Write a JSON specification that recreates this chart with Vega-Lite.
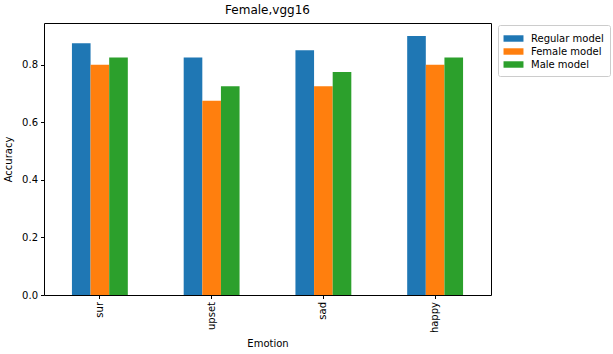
{
  "$schema": "https://vega.github.io/schema/vega-lite/v6.json",
  "width": 447,
  "height": 272,
  "autosize": {"type": "none"},
  "padding": {"left": 44, "top": 23, "right": 122, "bottom": 59},
  "title": {"text": "Female,vgg16", "fontSize": 12, "font": "DejaVu Sans", "fontWeight": "normal", "color": "#000", "offset": 6},
  "data": {"values": [
    {"emotion": "sur", "model": "Regular model", "acc": 0.875},
    {"emotion": "sur", "model": "Female model", "acc": 0.8},
    {"emotion": "sur", "model": "Male model", "acc": 0.825},
    {"emotion": "upset", "model": "Regular model", "acc": 0.825},
    {"emotion": "upset", "model": "Female model", "acc": 0.675},
    {"emotion": "upset", "model": "Male model", "acc": 0.725},
    {"emotion": "sad", "model": "Regular model", "acc": 0.85},
    {"emotion": "sad", "model": "Female model", "acc": 0.725},
    {"emotion": "sad", "model": "Male model", "acc": 0.775},
    {"emotion": "happy", "model": "Regular model", "acc": 0.9},
    {"emotion": "happy", "model": "Female model", "acc": 0.8},
    {"emotion": "happy", "model": "Male model", "acc": 0.825}
  ]},
  "mark": {"type": "bar"},
  "encoding": {
    "x": {"field": "emotion", "type": "nominal", "sort": ["sur", "upset", "sad", "happy"],
      "scale": {"paddingInner": 0.5, "paddingOuter": 0.25},
      "axis": {"title": "Emotion", "labelAngle": -90, "labelAlign": "right", "labelBaseline": "middle", "titlePadding": 6}},
    "xOffset": {"field": "model", "type": "nominal", "sort": ["Regular model", "Female model", "Male model"], "scale": {"paddingInner": 0, "paddingOuter": 0}},
    "y": {"field": "acc", "type": "quantitative", "scale": {"domain": [0, 0.945], "nice": false},
      "axis": {"title": "Accuracy", "values": [0, 0.2, 0.4, 0.6, 0.8], "format": ".1f", "titlePadding": 8}},
    "color": {"field": "model", "type": "nominal", "sort": ["Regular model", "Female model", "Male model"],
      "scale": {"domain": ["Regular model", "Female model", "Male model"], "range": ["#1f77b4", "#ff7f0e", "#2ca02c"]},
      "legend": {"title": null, "orient": "none", "legendX": 454, "legendY": 2,
        "symbolType": "M-1.33,-0.43L1.33,-0.43L1.33,0.43L-1.33,0.43Z", "symbolSize": 225, "symbolStrokeWidth": 0,
        "rowPadding": 0, "strokeColor": "#cccccc", "cornerRadius": 2, "padding": 6, "fillColor": "#ffffff", "symbolOffset": 2, "labelOffset": 10}}
  },
  "config": {
    "view": {"stroke": "#000", "strokeWidth": 1},
    "legend": {"labelFont": "DejaVu Sans", "labelFontSize": 10, "labelColor": "#000", "labelLimit": 200},
    "axis": {"labelFont": "DejaVu Sans", "titleFont": "DejaVu Sans", "labelFontSize": 10, "titleFontSize": 10,
      "titleFontWeight": "normal", "labelColor": "#000", "titleColor": "#000", "tickColor": "#000", "domainColor": "#000",
      "tickSize": 3.5, "labelPadding": 3, "grid": false, "domain": false}
  }
}
